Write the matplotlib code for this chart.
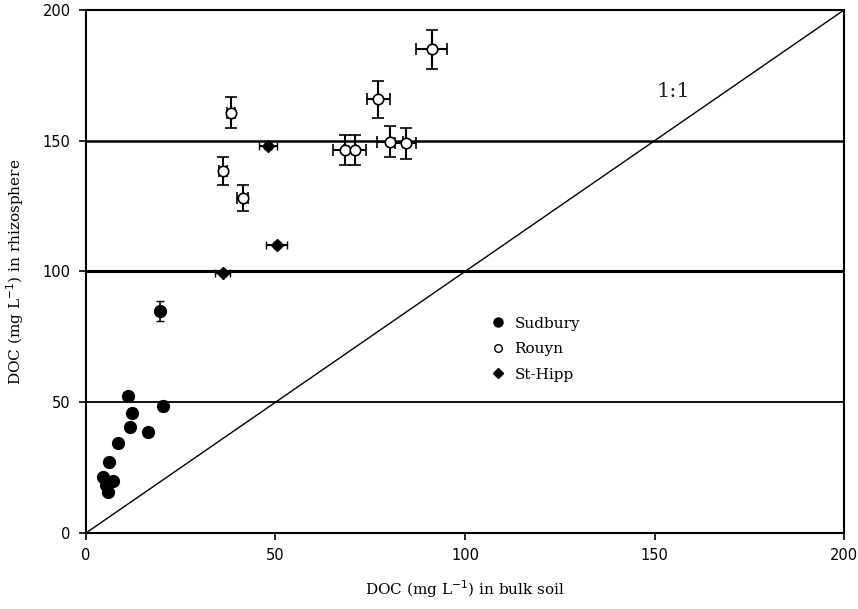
import matplotlib
matplotlib.use("Agg")
import matplotlib.pyplot as plt
from matplotlib.lines import Line2D

# Sudbury (filled circles)
sud_x = [19.5, 11.1, 12.1, 11.6, 16.4, 20.3, 8.4, 6.1, 4.6, 7.2, 5.4, 5.9]
sud_y = [85.0, 52.4, 46.0, 40.5, 38.6, 48.5, 34.5, 27.0, 21.5, 19.9, 18.5, 15.8]
sud_xerr = [1.0, 0.8, 0.8, 0.8, 0.8, 1.0, 0.6, 0.6, 0.5, 0.5, 0.5, 0.5]
sud_yerr = [3.8, 1.5, 1.5, 1.5, 1.0, 2.0, 1.0, 1.0, 1.0, 1.0, 1.0, 1.0]

# Rouyn (open circles)
rou_x = [38.3, 36.2, 41.3, 68.3, 71.0, 80.2, 84.4, 77.1, 91.2]
rou_y = [160.7, 138.4, 128.2, 146.5, 146.5, 149.6, 149.0, 165.8, 185.0]
rou_xerr = [1.0, 1.0, 1.5, 3.0, 3.0, 3.5, 2.8, 3.0, 4.0]
rou_yerr = [6.0, 5.5, 5.0, 5.7, 5.7, 6.0, 6.0, 7.0, 7.4]

# St-Hipp (filled diamonds)
sth_x = [48.1, 50.3, 36.1]
sth_y = [148.0, 110.1, 99.5]
sth_xerr = [2.4, 2.7, 2.0]
sth_yerr = [1.0, 1.0, 1.0]

ref_lines = [50, 100, 150]
ref_widths = [1.3, 2.2, 1.8]

fig = plt.figure(figsize=(8.58, 6.09), dpi=100)
ax = fig.add_axes([0.1002, 0.1248, 0.8835, 0.8588])

for yv, lw in zip(ref_lines, ref_widths):
    ax.axhline(yv, color="black", lw=lw, zorder=1)
ax.plot([0, 200], [0, 200], color="black", lw=1.0, zorder=1)
ax.text(155, 169, "1:1", fontsize=15, family="DejaVu Serif", ha="center", va="center",
        color="#222222")

ax.errorbar(sud_x, sud_y, xerr=sud_xerr, yerr=sud_yerr, fmt="o", ms=8.5,
            mfc="black", mec="black", ecolor="black", elinewidth=1.2, capsize=3, zorder=3)
ax.errorbar(rou_x, rou_y, xerr=rou_xerr, yerr=rou_yerr, fmt="o", ms=7.5,
            mfc="white", mec="black", mew=1.2, ecolor="black", elinewidth=1.5,
            capsize=4, capthick=1.5, zorder=3)
ax.errorbar(sth_x, sth_y, xerr=sth_xerr, yerr=sth_yerr, fmt="D", ms=6,
            mfc="black", mec="black", ecolor="black", elinewidth=1.5, capsize=3, zorder=3)

ax.set_xlim(0, 200)
ax.set_ylim(0, 200)
ax.set_xticks([0, 50, 100, 150, 200])
ax.set_yticks([0, 50, 100, 150, 200])
ax.tick_params(direction="out", length=5, width=1.2, labelsize=10.5, pad=6)
for s in ax.spines.values():
    s.set_linewidth(1.5)

ax.set_xlabel("DOC (mg L$^{-1}$) in bulk soil", family="DejaVu Serif", fontsize=11, labelpad=11)
ax.set_ylabel("DOC (mg L$^{-1}$) in rhizosphere", family="DejaVu Serif", fontsize=11, labelpad=12)

handles = [
    Line2D([], [], ls="none", marker="o", ms=6.5, mfc="black", mec="black"),
    Line2D([], [], ls="none", marker="o", ms=5.5, mfc="white", mec="black"),
    Line2D([], [], ls="none", marker="D", ms=5, mfc="black", mec="black"),
]
ax.legend(handles, ["Sudbury", "Rouyn", "St-Hipp"], loc="upper left",
          bbox_to_anchor=(0.505, 0.44), frameon=False, handletextpad=0.1,
          labelspacing=0.75, prop={"family": "DejaVu Serif", "size": 11})

fig.savefig("out.png", dpi=100)
